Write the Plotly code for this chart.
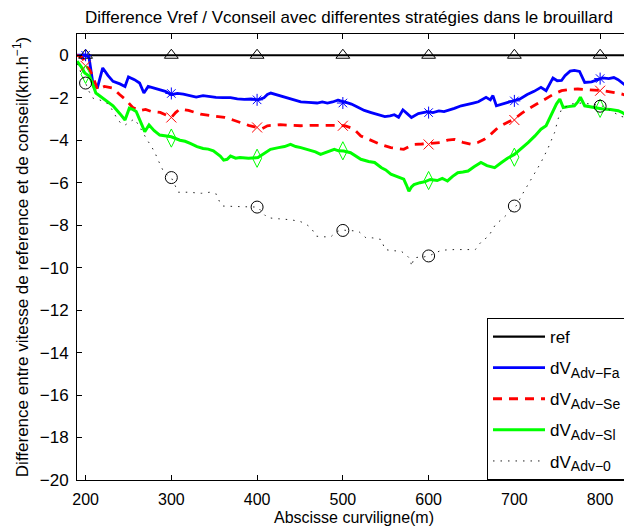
import plotly.graph_objects as go

# ---------------- data ----------------
x_ref = [190, 836]
y_ref = [0, 0]

x_fa = [190, 200, 204, 207, 209, 214, 220, 226, 232, 240, 246, 250, 257, 263, 268, 273, 280, 286, 293, 300,
        307, 314, 321, 329, 337, 345, 352, 360, 369, 377, 385, 393, 401, 408, 412, 416, 422, 428, 435, 443,
        451, 460, 470, 476, 482, 488, 494, 502, 510, 517, 525, 533, 541, 549, 555, 560, 565, 570, 575, 580,
        588, 594, 599, 605, 612, 618, 623, 630, 638, 645, 652, 658, 663, 667, 672, 675, 679, 686, 693, 700,
        707, 715, 723, 731, 737, 745, 750, 755, 759, 765, 770, 776, 782, 790, 796, 803, 810, 816, 821, 826,
        831, 835]
y_fa = [0, 0, -0.1, -0.8, -1.45, -1.5, -0.6, -0.95, -1.23, -1.35, -1.47, -1.02, -1.15, -1.31, -1.78, -1.47, -1.55, -1.63, -1.7, -1.86,
        -1.8, -1.83, -1.9, -1.97, -1.9, -1.95, -1.98, -2.0, -2.0, -2.05, -2.08, -2.06, -2.1, -2.0, -1.85, -1.78, -1.85, -1.9, -2.0, -2.08,
        -2.2, -2.22, -2.25, -2.2, -2.25, -2.2, -2.12, -2.2, -2.3, -2.44, -2.6, -2.7, -2.8, -2.89, -2.85, -2.8, -2.92, -2.57, -2.75, -2.93,
        -2.75, -2.72, -2.66, -2.7, -2.62, -2.65, -2.6, -2.5, -2.38, -2.3, -2.25, -2.19, -2.05, -1.98, -2.1, -1.9, -2.38, -2.3, -2.22, -2.14,
        -2.05, -1.85, -1.7, -1.51, -1.67, -1.07, -1.2, -1.19, -0.96, -0.75, -0.71, -0.76, -1.28, -1.25, -1.15, -1.07, -1.1, -1.05, -1.15, -1.3,
        -1.47, -0.91]

x_se = [190, 196, 201, 205, 208.5, 214, 222, 232, 240, 247, 255, 263, 270, 277, 287, 294, 300, 305, 310, 320,
        334, 348, 362, 372, 380, 390, 400, 406, 412, 420, 427, 440, 451, 465, 482, 495, 502, 512, 521, 532,
        544, 556, 565, 571, 577, 583, 592, 602, 614, 622, 630, 640, 650, 658, 665, 673, 681, 690, 700, 708,
        716, 726, 736, 745, 755, 765, 774, 788, 803, 815, 825, 835]
y_se = [0, -0.1, -0.52, -0.7, -1.0, -1.63, -1.47, -1.55, -1.86, -2.1, -2.46, -2.61, -2.55, -2.65, -2.69, -2.8, -2.93, -2.7, -2.53, -2.6,
        -2.77, -2.85, -2.93, -3.05, -3.17, -3.3, -3.4, -3.45, -3.32, -3.3, -3.27, -3.3, -3.32, -3.3, -3.29, -3.3, -3.32, -3.45, -3.8, -4.0,
        -4.2, -4.35, -4.4, -4.43, -4.3, -4.2, -4.18, -4.15, -4.11, -4.0, -3.96, -4.1, -4.2, -4.1, -3.96, -3.7, -3.4, -3.2, -3.0, -2.75,
        -2.53, -2.3, -2.06, -1.85, -1.67, -1.6, -1.59, -1.62, -1.67, -1.75, -1.82, -1.98]

x_sl = [190, 195, 199, 205, 212, 222, 232, 240, 246, 251, 255, 259, 264, 269, 274, 280, 286.5, 293, 300, 310,
        316, 322, 330, 337, 343, 349, 357, 361, 365, 369, 375, 380, 390, 401, 408, 415.6, 425, 432, 439, 445,
        451, 460, 468, 474, 482, 490, 495, 501, 509, 515, 521, 530, 537, 545, 550, 556, 563, 571, 574, 577,
        580, 583, 590, 596, 602, 610, 616, 622, 628, 634, 640, 646, 653, 661, 668, 677, 685, 692, 700, 708,
        716, 724, 731, 737, 741, 745, 749, 753, 757, 763, 770, 774, 777, 782, 790, 796, 803, 812, 821, 826,
        831, 836]
y_sl = [-0.28, -0.55, -0.83, -1.0, -1.78, -2.1, -2.38, -2.75, -3.05, -2.49, -2.55, -2.65, -3.1, -3.6, -3.28, -3.55, -3.76, -3.8, -3.84, -4.0,
        -4.05, -4.15, -4.3, -4.39, -4.42, -4.5, -4.75, -4.94, -4.9, -4.75, -4.85, -4.82, -4.85, -4.82, -4.65, -4.43, -4.35, -4.3, -4.2, -4.3,
        -4.35, -4.45, -4.55, -4.67, -4.55, -4.43, -4.5, -4.51, -4.59, -4.75, -4.9, -5.0, -5.05, -5.3, -5.4, -5.6, -5.7, -5.83, -6.1, -6.4,
        -6.2, -6.09, -6.0, -5.95, -5.85, -5.9, -5.8, -5.92, -5.7, -5.53, -5.5, -5.45, -5.25, -5.05, -5.2, -5.29, -5.05, -4.85, -4.67, -4.4,
        -4.11, -3.8, -3.48, -3.32, -3.0, -2.69, -2.3, -2.06, -2.46, -2.42, -2.38, -2.2, -1.98, -2.38, -2.45, -2.5, -2.53, -2.55, -2.61, -2.7,
        -2.85, -2.14]

x_z = [190, 196, 200, 204, 208.5, 216, 224, 230, 236, 241, 246, 251, 257, 262, 267, 272, 277, 281, 284.6, 288,
       292, 296, 300, 304, 308, 320, 335, 345, 353, 356, 360, 373, 386, 401, 406, 412, 425, 440, 451, 457,
       463, 469, 478, 486, 490, 494, 502, 510, 518, 527, 535, 545, 549, 558, 568, 574, 579, 580, 583, 590,
       595, 602, 615, 630, 645, 654.5, 658, 662, 670, 678, 686, 694, 702, 710, 720, 731, 739, 747, 751, 755,
       767, 779, 790, 803, 812, 824, 831, 837]
y_z = [-0.4, -1.0, -1.31, -1.7, -2.02, -2.1, -2.22, -2.5, -2.93, -3.2, -3.29, -3.15, -3.0, -3.3, -3.68, -4.0, -4.31, -4.6, -4.94, -5.25,
       -5.57, -5.65, -5.76, -6.1, -6.45, -6.45, -6.5, -6.45, -6.55, -6.88, -7.1, -7.12, -7.13, -7.15, -7.4, -7.65, -7.7, -7.75, -7.84, -7.95,
       -8.13, -8.52, -8.55, -8.55, -8.4, -8.28, -8.24, -8.25, -8.28, -8.6, -8.6, -8.68, -9.15, -9.2, -9.23, -9.4, -9.62, -9.94, -9.54, -9.5,
       -9.49, -9.42, -9.18, -9.15, -9.15, -9.15, -8.95, -8.76, -8.52, -7.97, -7.7, -7.41, -7.1, -6.5, -5.8, -5.05, -4.4, -3.63, -3.0, -2.53,
       -2.29, -2.25, -2.3, -2.4, -2.6, -2.88, -2.93, -2.38]

# marker positions (every 100 m)
x_mk = [200, 300, 400, 500, 600, 700, 800]
mk_ref = [0, 0, 0, 0, 0, 0, 0]
mk_fa = [0.0, -1.8, -2.1, -2.25, -2.7, -2.15, -1.1]
mk_se = [-0.5, -2.93, -3.4, -3.32, -4.2, -3.05, -1.67]
mk_sl = [-0.9, -3.9, -4.85, -4.5, -5.9, -4.8, -2.5]
mk_z = [-1.31, -5.76, -7.15, -8.25, -9.45, -7.1, -2.4]

x_ticks = [200, 300, 400, 500, 600, 700, 800]
y_ticks = list(range(-20, 1, 2))
y_ticklabels = [("\u2212" + str(-v)) if v < 0 else str(v) for v in y_ticks]

SUB = '<sub><span style="font-size:14px">{}</span></sub>'
names = ["ref",
         "dV" + SUB.format("Adv\u2212Fa"),
         "dV" + SUB.format("Adv\u2212Se"),
         "dV" + SUB.format("Adv\u2212Sl"),
         "dV" + SUB.format("Adv\u22120")]

FONT = "Liberation Sans, Arial, Helvetica, sans-serif"

# the page body has an 8px margin, so the figure is sized to the visible area
W, H = 624, 519

fig = go.Figure()

series = [
    (x_ref, y_ref, mk_ref, "black", 2.2, "solid", "triangle-up-open", 12),
    (x_fa, y_fa, mk_fa, "#0000FF", 2.8, "solid", "asterisk-open", 10),
    (x_se, y_se, mk_se, "#FF0000", 2.8, "9px,7px", "x-thin-open", 10),
    (x_sl, y_sl, mk_sl, "#00FF00", 3.0, "solid", "diamond-tall-open", 13),
    (x_z, y_z, mk_z, "#222222", 1.0, "1.5px,6px", "circle-open", 12),
]

for i, ((xs, ys, mks, col, w, dash, sym, sz), nm) in enumerate(zip(series, names)):
    fig.add_trace(go.Scatter(x=xs, y=ys, mode="lines", name=nm, legendgroup="g%d" % i,
                             line=dict(color=col, width=w, dash=dash)))

for (xs, ys, mks, col, w, dash, sym, sz), nm in zip(series, names):
    mcol = "black" if col == "#222222" else col
    fig.add_trace(go.Scatter(x=x_mk, y=mks, mode="markers", showlegend=False,
                             marker=dict(symbol=sym, size=sz, color=mcol,
                                         line=dict(color=mcol, width=1))))

axis_common = dict(showgrid=False, zeroline=False, showline=True, linecolor="black",
                   linewidth=1, mirror="ticks", ticks="inside", ticklen=5,
                   tickcolor="black", automargin=False)

fig.update_layout(
    width=W, height=H,
    paper_bgcolor="white", plot_bgcolor="white",
    margin=dict(l=69, r=1, t=26, b=47),
    font=dict(family=FONT, size=17, color="black"),
    title=dict(text="Difference Vref / Vconseil avec differentes stratégies dans le brouillard",
               x=341 / W, xanchor="center", y=1 - 9 / H, yanchor="middle",
               font=dict(family=FONT, size=17, color="black")),
    xaxis=dict(range=[190, 836], tickvals=x_ticks, ticklabelstandoff=5,
               tickfont=dict(family=FONT, size=16, color="black"),
               title=dict(text="Abscisse curviligne(m)", font=dict(family=FONT, size=16), standoff=4),
               **axis_common),
    yaxis=dict(range=[-20, 1], tickvals=y_ticks, ticktext=y_ticklabels, ticklabelstandoff=4,
               tickfont=dict(family=FONT, size=17, color="black"),
               title=dict(text="Difference entre vitesse de reference et de conseil(km.h<sup>\u22121</sup>)",
                          font=dict(family=FONT, size=17), standoff=6),
               **axis_common),
    legend=dict(x=(479 - 69) / 554, xanchor="left", y=0, yanchor="bottom",
                bgcolor="white", bordercolor="black", borderwidth=1,
                font=dict(family=FONT, size=17, color="black"),
                tracegroupgap=6, itemwidth=52),
    showlegend=True,
)

fig.write_html("out.html")
